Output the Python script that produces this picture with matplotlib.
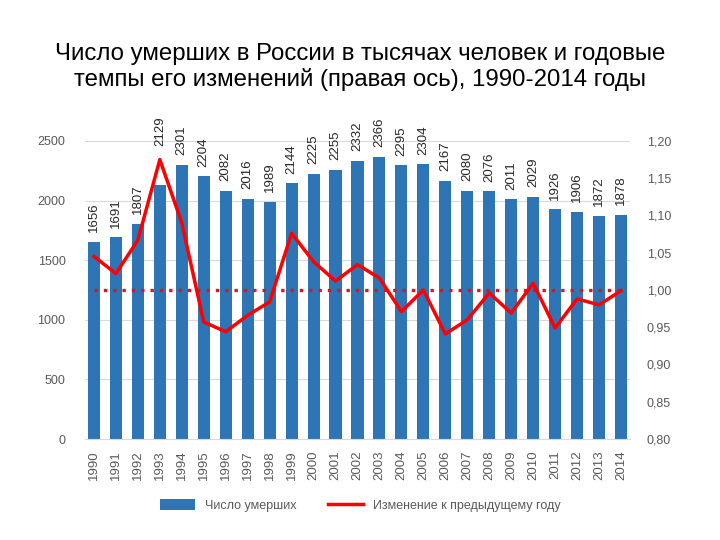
import matplotlib.pyplot as plt
from matplotlib.lines import Line2D
from matplotlib.patches import Patch
from matplotlib.ticker import FuncFormatter

plt.rcParams["font.family"] = ["Liberation Sans Narrow", "Liberation Sans", "DejaVu Sans"]

YEARS = [str(y) for y in range(1990, 2015)]
DEATHS = [1656, 1691, 1807, 2129, 2301, 2204, 2082, 2016, 1989, 2144,
          2225, 2255, 2332, 2366, 2295, 2304, 2167, 2080, 2076, 2011,
          2029, 1926, 1906, 1872, 1878]
CHANGE = [1.045, 1.022, 1.067, 1.175, 1.090, 0.957, 0.944, 0.966, 0.984, 1.076,
          1.038, 1.012, 1.034, 1.016, 0.971, 1.000, 0.941, 0.960, 0.996, 0.969,
          1.009, 0.949, 0.988, 0.980, 0.999]

BLUE = "#2E75B6"
RED = "#FF0000"
GRID = "#D9D9D9"
TICK = "#595959"

fig = plt.figure(figsize=(7.2, 5.4), dpi=100)
ax = fig.add_axes([0.118, 0.187, 0.757, 0.552])
x = list(range(len(YEARS)))

ax.bar(x, DEATHS, width=0.55, color=BLUE, zorder=2)
peak = CHANGE.index(max(CHANGE))
for xi, v in zip(x, DEATHS):
    # the label over the line's peak is lifted clear of it
    off = 28 if xi == peak else 7
    ax.annotate(str(v), (xi, v), xytext=(0, off), textcoords="offset points",
                rotation=90, ha="center", va="bottom", fontsize=9.5,
                color="#262626")

ax.set_xlim(-0.41, len(YEARS) - 0.59)
ax.set_ylim(0, 2500)
ax.set_yticks(range(0, 2501, 500))
ax.yaxis.grid(True, color=GRID, linewidth=0.8, zorder=0)
ax.set_xticks(x)
ax.set_xticklabels(YEARS, rotation=90, fontsize=9.5, color=TICK)
ax.tick_params(axis="both", length=0, labelcolor=TICK)
ax.tick_params(axis="y", pad=14, labelsize=9)
ax.tick_params(axis="x", pad=8)
for s in ax.spines.values():
    s.set_visible(False)
ax.spines["bottom"].set_visible(True)
ax.spines["bottom"].set_color(GRID)

ax2 = ax.twinx()
ax2.set_ylim(0.80, 1.20)
ax2.set_yticks([0.80, 0.85, 0.90, 0.95, 1.00, 1.05, 1.10, 1.15, 1.20])
ax2.yaxis.set_major_formatter(FuncFormatter(lambda v, p: f"{v:.2f}".replace(".", ",")))
ax2.tick_params(axis="y", length=0, labelsize=9, labelcolor=TICK, pad=12)
for s in ax2.spines.values():
    s.set_visible(False)

ax2.plot(x, CHANGE, color=RED, linewidth=2.5, zorder=4)
ax2.plot([x[0], x[-1]], [1.0, 1.0], color="#E0102A", linewidth=2.4,
         linestyle=(0, (1, 1.8)), zorder=3)

fig.text(0.5, 0.876, "Число умерших в России в тысячах человек и годовые\n"
         "темпы его изменений (правая ось), 1990-2014 годы",
         ha="center", va="center", fontsize=17.3, color="black",
         family=["Liberation Sans", "DejaVu Sans"], linespacing=1.18)

handles = [Patch(facecolor=BLUE, label="Число умерших"),
           Line2D([0], [0], color=RED, linewidth=2.5, label="Изменение к предыдущему году")]
fig.legend(handles=handles, loc="center", bbox_to_anchor=(0.5, 0.064), ncol=2,
           frameon=False, fontsize=9, handlelength=2.8, handleheight=0.9,
           columnspacing=2.5, labelcolor=TICK)

fig.savefig("out.png", dpi=100)
